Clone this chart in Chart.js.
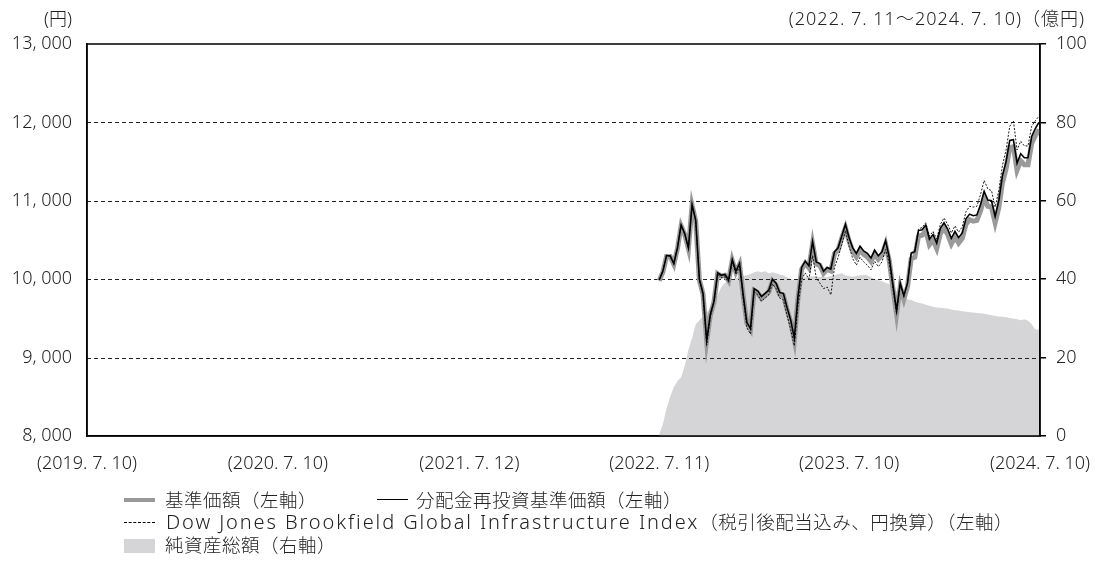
<!DOCTYPE html>
<html>
<head>
<meta charset="utf-8">
<script src="https://cdn.jsdelivr.net/npm/chart.js@4.4.1/dist/chart.umd.min.js"></script>
<style>
  body { margin: 0; background: #fff; font-family: "Noto Sans", "Noto Sans CJK JP", sans-serif; color: #222; font-weight: 300; }
  #wrap { position: relative; width: 1097px; height: 567px; overflow: hidden; }
  #dataChart { position: absolute; left: 0; top: 0; }
  .txt { position: absolute; font-size: 18px; line-height: 22px; white-space: nowrap; }
  .leg { position: absolute; font-size: 18.5px; letter-spacing: 0.5px; line-height: 22px; white-space: nowrap; }
  .lat { font-size: 20px; letter-spacing: 1.9px; }
  .sw { position: absolute; width: 31px; }
</style>
</head>
<body>
<div id="wrap">
  <canvas id="dataChart" width="1097" height="567"></canvas>
  <div class="txt" style="right:1025px; top:7px;">(円)</div>
  <div class="txt" style="right:12px; top:7px; letter-spacing:1px;">(2022. 7. 11～2024. 7. 10)（億円)</div>

  <span class="sw" style="left:124px; top:498px; height:4px; background:#999;"></span>
  <div class="leg" style="left:165px; top:489px;">基準価額（左軸）</div>
  <span class="sw" style="left:377px; top:499px; height:0; border-top:1.5px solid #000;"></span>
  <div class="leg" style="left:416px; top:489px;">分配金再投資基準価額（左軸）</div>

  <span class="sw" style="left:124px; top:522px; height:0; border-top:1px dashed #000;"></span>
  <div class="leg" style="left:166px; top:511px;"><span class="lat">Dow Jones Brookfield Global Infrastructure Index</span>（税引後配当込み、円換算）（左軸）</div>

  <span class="sw" style="left:124px; top:539px; height:14px; background:#d5d5d7;"></span>
  <div class="leg" style="left:165px; top:534px;">純資産総額（右軸）</div>
</div>
<script>
// axis range dates
var axisStart = "2019-07-10";
var seriesStart = "2022-07-11"; // weekly data from here
var xTickDates = ["2019-07-10", "2020-07-10", "2021-07-12", "2022-07-11", "2023-07-10", "2024-07-10"];
var xTickLabels = ["(2019. 7. 10)", "(2020. 7. 10)", "(2021. 7. 12)", "(2022. 7. 11)", "(2023. 7. 10)", "(2024. 7. 10)"];

// 分配金再投資基準価額 (円)
var reinvestValues = [
  9990, 10100, 10300, 10300, 10200, 10400, 10690, 10580, 10400, 10950,
  10750, 10000, 9820, 9220, 9550, 9720, 10080, 10050, 10060, 9990,
  10250, 10100, 10200, 9800, 9450, 9370, 9880, 9850, 9780, 9820,
  9860, 10000, 9950, 9830, 9820, 9640, 9480, 9250, 9780, 10150,
  10230, 10170, 10480, 10220, 10200, 10100, 10150, 10130, 10350, 10400,
  10550, 10700, 10530, 10400, 10330, 10420, 10360, 10330, 10270, 10370,
  10300, 10350, 10490, 10280, 9930, 9600, 9950, 9790, 9950, 10330,
  10350, 10620, 10630, 10690, 10510, 10570, 10460, 10650, 10720, 10640,
  10520, 10610, 10530, 10590, 10770, 10830, 10810, 10820, 10950, 11120,
  11010, 11000, 10800, 11000, 11320, 11500, 11770, 11780, 11480, 11600,
  11550, 11550, 11820, 11920, 12000
];

// 基準価額 (円)
var navValues = [
  9980, 10090, 10290, 10290, 10190, 10390, 10680, 10570, 10390, 10940,
  10740, 9990, 9810, 9210, 9540, 9710, 10070, 10040, 10050, 9980,
  10240, 10090, 10190, 9790, 9440, 9360, 9855, 9825, 9755, 9795,
  9835, 9975, 9925, 9805, 9795, 9615, 9455, 9225, 9755, 10125,
  10205, 10145, 10455, 10195, 10175, 10075, 10125, 10105, 10325, 10375,
  10525, 10655, 10485, 10355, 10285, 10375, 10315, 10285, 10225, 10325,
  10255, 10305, 10445, 10235, 9885, 9555, 9905, 9745, 9905, 10260,
  10280, 10550, 10560, 10620, 10440, 10500, 10390, 10580, 10650, 10570,
  10450, 10540, 10460, 10520, 10700, 10760, 10740, 10750, 10870, 11040,
  10930, 10920, 10720, 10910, 11230, 11410, 11680, 11690, 11390, 11510,
  11460, 11460, 11730, 11830, 11910
];

// Dow Jones Brookfield Global Infrastructure Index (円換算)
var indexValues = [
  9990, 10110, 10310, 10290, 10190, 10410, 10700, 10570, 10390, 10960,
  10740, 9980, 9790, 9160, 9520, 9700, 10060, 10020, 10030, 9960,
  10220, 10060, 10160, 9760, 9380, 9300, 9840, 9800, 9720, 9760,
  9800, 9940, 9880, 9760, 9740, 9540, 9360, 9150, 9660, 10000,
  10080, 10000, 10300, 10020, 9950, 9880, 9900, 9800, 10150, 10280,
  10440, 10620, 10420, 10260, 10180, 10280, 10220, 10180, 10120, 10230,
  10160, 10220, 10380, 10200, 9880, 9560, 9920, 9780, 9950, 10340,
  10370, 10640, 10660, 10720, 10550, 10610, 10510, 10700, 10780, 10700,
  10590, 10680, 10600, 10670, 10860, 10930, 10920, 10930, 11080, 11260,
  11150, 11130, 10920, 11130, 11450, 11650, 11950, 12020, 11650, 11760,
  11700, 11700, 11950, 12020, 12080
];

// 純資産総額 (億円)
var netAssets = [
  0.5, 3, 7, 10, 12.5, 14, 15, 18, 22, 25,
  28.5, 29.5, 30.5, 31.5, 32.5, 33.8, 36, 38, 39, 39.8,
  40, 40.3, 40.5, 40.8, 41, 41.3, 41.8, 42, 41.8, 42,
  41.5, 41.8, 41.5, 41.2, 41, 40.5, 40, 39.8, 40, 40.3,
  40.5, 40.6, 40.8, 40.5, 40.6, 40.7, 40.5, 40.8, 41, 41.3,
  41.5, 41, 40.8, 40.6, 40.8, 41, 41.1, 41, 40.5, 40,
  39.8, 39.5, 39, 38.8, 37.5, 37, 36, 35.5, 34.8, 34.7,
  34.3, 34, 33.8, 33.5, 33.2, 33, 32.8, 32.7, 32.6, 32.5,
  32.3, 32.1, 32, 31.8, 31.7, 31.6, 31.5, 31.4, 31.3, 31.2,
  31, 30.8, 30.6, 30.5, 30.4, 30.3, 30.1, 30, 29.8, 29.5,
  29.8, 29.4, 28.5, 27.2, 27.2
];

function dayNum(s) {
  return (Date.parse(s) - Date.parse(axisStart)) / 86400000;
}

function toPoints(values) {
  var d0 = dayNum(seriesStart);
  return values.map(function (v, i) { return { x: d0 + i * 7, y: v }; });
}

var tickDays = xTickDates.map(dayNum);
var FONT = "'Noto Sans', 'Noto Sans CJK JP', sans-serif";
var tickFont = { family: FONT, size: 18, weight: 300 };

var gridPlugin = {
  id: "gridOverArea",
  afterDatasetDraw: function (chart, args) {
    if (args.index !== 3) return;
    var ctx = chart.ctx, a = chart.chartArea, y = chart.scales.y;
    ctx.save();
    ctx.strokeStyle = "#222";
    ctx.lineWidth = 1;
    ctx.setLineDash([4, 3]);
    y.ticks.forEach(function (t) {
      if (t.value <= y.min || t.value >= y.max) return;
      var py = Math.round(y.getPixelForValue(t.value)) + 0.5;
      ctx.beginPath();
      ctx.moveTo(a.left, py);
      ctx.lineTo(a.right, py);
      ctx.stroke();
    });
    ctx.restore();
  },
  afterDraw: function (chart) {
    var ctx = chart.ctx, a = chart.chartArea;
    ctx.save();
    ctx.strokeStyle = "#000";
    ctx.lineWidth = 1.5;
    ctx.strokeRect(a.left, a.top, a.right - a.left, a.bottom - a.top);
    ctx.restore();
  }
};

var ctx = document.getElementById("dataChart").getContext("2d");
var chart = new Chart(ctx, {
  type: "line",
  data: {
    datasets: [
      {
        label: "分配金再投資基準価額（左軸）",
        data: toPoints(reinvestValues),
        borderColor: "#000",
        borderWidth: 1.6,
        yAxisID: "y",
        fill: false,
      },
      {
        label: "Dow Jones Brookfield Global Infrastructure Index（税引後配当込み、円換算）（左軸）",
        data: toPoints(indexValues),
        borderColor: "#000",
        borderWidth: 0.9,
        borderDash: [2, 1.5],
        yAxisID: "y",
        fill: false,
      },
      {
        label: "基準価額（左軸）",
        data: toPoints(navValues),
        borderColor: "#9a9a9a",
        borderWidth: 5,
        yAxisID: "y",
        fill: false,
      },
      {
        label: "純資産総額（右軸）",
        data: toPoints(netAssets),
        borderWidth: 0,
        borderColor: "rgba(0,0,0,0)",
        backgroundColor: "#d5d5d7",
        yAxisID: "y2",
        fill: "origin",
      },
    ],
  },
  options: {
    responsive: false,
    animation: false,
    devicePixelRatio: 1,
    layout: { padding: { top: 44, left: 0, right: 0, bottom: 0 } },
    elements: { point: { radius: 0 }, line: { tension: 0 } },
    plugins: { legend: { display: false }, tooltip: { enabled: false } },
    scales: {
      x: {
        type: "linear",
        min: 0,
        max: tickDays[tickDays.length - 1],
        afterBuildTicks: function (scale) {
          scale.ticks = tickDays.map(function (d) { return { value: d }; });
        },
        afterFit: function (scale) {
          scale.height = 131;
          scale.paddingLeft = 0;
          scale.paddingRight = 0;
        },
        grid: { display: false, drawTicks: false },
        border: { display: true, color: "#000", width: 1.5 },
        ticks: {
          autoSkip: false,
          maxRotation: 0,
          padding: 17,
          color: "#222",
          font: tickFont,
          callback: function (v, i) { return xTickLabels[i]; },
        },
      },
      y: {
        position: "left",
        min: 8000,
        max: 13000,
        afterFit: function (scale) { scale.width = 87; },
        grid: { display: false, drawTicks: false },
        border: { display: true, color: "#000", width: 1.5 },
        ticks: {
          stepSize: 1000,
          padding: 15,
          color: "#222",
          font: tickFont,
          callback: function (v) { return v.toLocaleString("en-US").replace(",", ", "); },
        },
      },
      y2: {
        position: "right",
        min: 0,
        max: 100,
        afterFit: function (scale) { scale.width = 57; },
        grid: { display: true, drawOnChartArea: false, tickLength: 6, color: "#000", lineWidth: 1.5 },
        border: { display: true, color: "#000", width: 1.5 },
        ticks: {
          stepSize: 20,
          padding: 10,
          color: "#222",
          font: tickFont,
        },
      },
    },
  },
  plugins: [gridPlugin],
});
</script>
</body>
</html>
